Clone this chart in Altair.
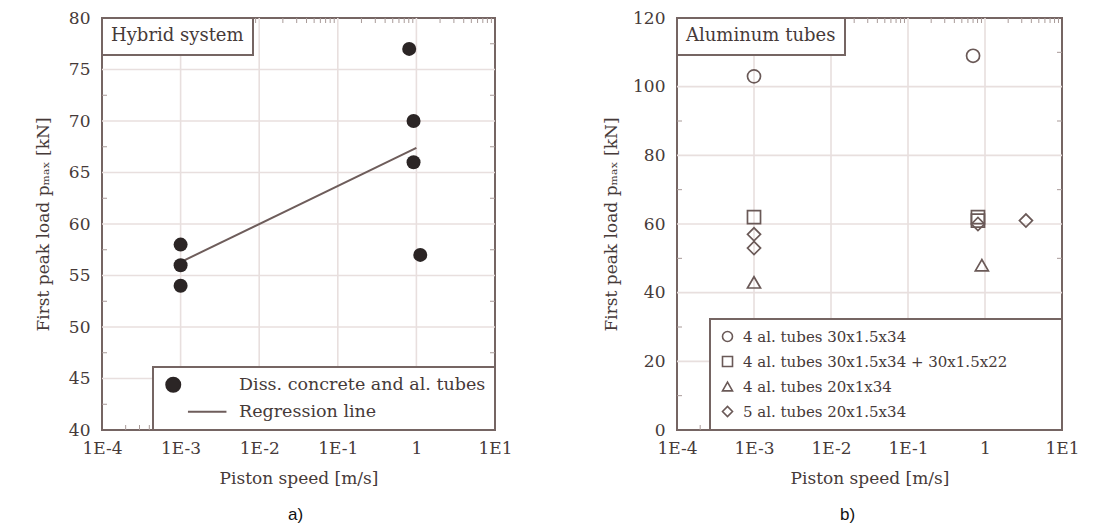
import altair as alt
import pandas as pd

# ---------------- data ----------------
# panel a) hybrid system
a_series_pts = "Diss. concrete and al. tubes"
a_series_reg = "Regression line"
a_speed = [1e-3, 1e-3, 1e-3, 0.81, 0.92, 0.92, 1.12]
a_load = [58, 56, 54, 77, 70, 66, 57]
reg_speed = [1e-3, 1.0]
reg_load = [56.3, 67.4]

# panel b) aluminum tubes
b_names = [
    "4 al. tubes 30x1.5x34",
    "4 al. tubes 30x1.5x34 + 30x1.5x22\u2800\u2800\u2800\u2800",
    "4 al. tubes 20x1x34",
    "5 al. tubes 20x1.5x34",
]
b_series = [0, 1, 3, 3, 2, 0, 1, 1, 3, 2, 3]
b_speed = [1e-3, 1e-3, 1e-3, 1e-3, 1e-3, 0.70, 0.81, 0.81, 0.81, 0.91, 3.4]
b_load = [103, 62, 57, 53, 43, 109, 62, 61, 60, 48, 61]

x_major = [1e-4, 1e-3, 1e-2, 1e-1, 1, 10]
x_grid = [1e-3, 1e-2, 1e-1, 1]
x_minor = [k * 10.0 ** e for e in range(-4, 1) for k in range(2, 10)]

a_y_major = [40, 45, 50, 55, 60, 65, 70, 75, 80]
a_y_grid = [45, 50, 55, 60, 65, 70, 75]
a_y_minor = [42.5, 47.5, 52.5, 57.5, 62.5, 67.5, 72.5, 77.5]

b_y_major = [0, 20, 40, 60, 80, 100, 120]
b_y_grid = [20, 40, 60, 80, 100]
b_y_minor = [10, 30, 50, 70, 90, 110]

# ---------------- style ----------------
FONT = "DejaVu Serif"
TEXT = "#463a39"
FRAME = "#756563"
GRID = "#e8dfde"
MINOR = "#a99b99"
DOT = "#2b2525"
LINEC = "#6e5d5b"
MARK = "#6a5957"

WA, WB, H = 393, 385, 412

xs = alt.Scale(type="log", domain=[1e-4, 10], nice=False)
LABEL_EXPR = ("datum.value == 1 ? '1' : (datum.value == 10 ? '1E1' : "
              "'1E' + round(log(datum.value) / LN10))")


def x_axis():
    return alt.Axis(values=x_major, labelExpr=LABEL_EXPR, title="Piston speed [m/s]",
                    grid=False, ticks=False, tickSize=0, domain=False,
                    labelPadding=10, titlePadding=14, labelFlush=False,
                    labelOverlap=False)


def y_axis(vals, ext, tpad):
    return alt.Axis(values=vals, title="First peak load p\u2098\u2090\u2093 [kN]",
                    grid=False, ticks=False, tickSize=0, domain=False,
                    labelPadding=12, titlePadding=tpad, minExtent=ext,
                    maxExtent=ext, labelOverlap=False, labelFlush=False)


def label_legend(name):
    # the boxed panel label is drawn as the legend's title; its entry is hidden
    return alt.Legend(title=name, titleFont=FONT, titleFontSize=18, titleColor=TEXT,
                      titleFontWeight="normal", titlePadding=0, orient="top-left",
                      offset=0, strokeColor=FRAME, fillColor="white", padding=9,
                      symbolSize=0, symbolOpacity=0, symbolStrokeWidth=0,
                      labelOffset=0, labelFontSize=1, labelExpr="''")


def decorations(ys, yax, W, y_grid, y_minor, panel_name):
    xax = x_axis()
    gx = alt.Chart(pd.DataFrame({"v": x_grid, "panel": [panel_name] * len(x_grid)})
                   ).mark_rule(color=GRID, strokeWidth=1.6).encode(
        x=alt.X("v:Q", scale=xs, axis=xax),
        opacity=alt.Opacity("panel:N", scale=alt.Scale(domain=[panel_name], range=[1]),
                            legend=label_legend(panel_name)))
    gy = alt.Chart(pd.DataFrame({"v": y_grid})).mark_rule(
        color=GRID, strokeWidth=1.6).encode(y=alt.Y("v:Q", scale=ys, axis=yax))
    ymin = pd.DataFrame({"v": y_minor})
    myl = alt.Chart(ymin).mark_rule(color=MINOR, strokeWidth=1).encode(
        y=alt.Y("v:Q", scale=ys, axis=yax), x=alt.value(0), x2=alt.value(5))
    myr = alt.Chart(ymin).mark_rule(color=MINOR, strokeWidth=1).encode(
        y=alt.Y("v:Q", scale=ys, axis=yax), x=alt.value(W - 5), x2=alt.value(W))
    xmin = pd.DataFrame({"v": x_minor})
    mxb = alt.Chart(xmin).mark_rule(color=MINOR, strokeWidth=1).encode(
        x=alt.X("v:Q", scale=xs, axis=xax), y=alt.value(H - 5), y2=alt.value(H))
    mxt = alt.Chart(xmin).mark_rule(color=MINOR, strokeWidth=1).encode(
        x=alt.X("v:Q", scale=xs, axis=xax), y=alt.value(0), y2=alt.value(5))
    return [gx, gy, myl, myr, mxb, mxt]


# ---------------- panel a ----------------
ysA = alt.Scale(domain=[40, 80], nice=False, zero=False)
yaxA = y_axis(a_y_major, 40, 10)
A_DOMAIN = [a_series_pts, a_series_reg]

legA = alt.Legend(title=None, orient="bottom-right", offset=0, strokeColor=FRAME,
                  fillColor="white", padding=9, symbolOffset=2.5, symbolSize=196,
                  labelOffset=57, rowPadding=6, labelFontSize=17.5, labelFont=FONT,
                  labelColor=TEXT, labelLimit=500,
                  symbolStrokeColor="#4d3f3e", symbolStrokeWidth=2)

dfA = pd.DataFrame({"speed": a_speed, "load": a_load,
                    "series": [a_series_pts] * len(a_speed)})
dfR = pd.DataFrame({"speed": reg_speed, "load": reg_load,
                    "series": [a_series_reg] * len(reg_speed)})

colA = alt.Scale(domain=A_DOMAIN, range=[DOT, LINEC])
shpA = alt.Scale(domain=A_DOMAIN, range=["circle", "M2.1,0H7.6"])

lineA = alt.Chart(dfR).mark_line(strokeWidth=2).encode(
    x=alt.X("speed:Q", scale=xs, axis=x_axis()),
    y=alt.Y("load:Q", scale=ysA, axis=yaxA),
    color=alt.Color("series:N", scale=colA, legend=legA),
)
ptsA = alt.Chart(dfA).mark_point(filled=True, size=196, opacity=1).encode(
    x=alt.X("speed:Q", scale=xs, axis=x_axis()),
    y=alt.Y("load:Q", scale=ysA, axis=yaxA),
    color=alt.Color("series:N", scale=colA, legend=legA),
    shape=alt.Shape("series:N", scale=shpA, legend=legA),
)

left = alt.layer(*decorations(ysA, yaxA, WA, a_y_grid, a_y_minor, "Hybrid system"),
                 lineA, ptsA).properties(
    width=WA, height=H,
    title=alt.TitleParams(text="a)", orient="bottom", anchor="middle",
                          font="Liberation Sans", fontSize=17, fontWeight="normal",
                          color="#111111", offset=21, dx=-3),
)

# ---------------- panel b ----------------
ysB = alt.Scale(domain=[0, 120], nice=False, zero=False)
yaxB = y_axis(b_y_major, 45, 12)
dfB = pd.DataFrame({"speed": b_speed, "load": b_load,
                    "series": [b_names[i] for i in b_series]})

legB = alt.Legend(title=None, orient="bottom-right", offset=0, strokeColor=FRAME,
                  fillColor="white", padding=10, symbolSize=100, labelOffset=8,
                  rowPadding=8, labelFontSize=15, labelFont=FONT, labelColor=TEXT,
                  labelLimit=700,
                  symbolStrokeColor=MARK, symbolFillColor="transparent",
                  symbolStrokeWidth=1.6)

ptsB = alt.Chart(dfB).mark_point(filled=False, size=170, strokeWidth=1.7,
                                  color=MARK, opacity=1).encode(
    x=alt.X("speed:Q", scale=xs, axis=x_axis()),
    y=alt.Y("load:Q", scale=ysB, axis=yaxB),
    shape=alt.Shape("series:N",
                    scale=alt.Scale(domain=b_names,
                                    range=["circle", "square", "triangle-up", "diamond"]),
                    legend=legB),
)

right = alt.layer(*decorations(ysB, yaxB, WB, b_y_grid, b_y_minor, "Aluminum tubes"),
                  ptsB).properties(
    width=WB, height=H,
    title=alt.TitleParams(text="b)", orient="bottom", anchor="middle",
                          font="Liberation Sans", fontSize=17, fontWeight="normal",
                          color="#111111", offset=21, dx=-22),
)

chart = (
    alt.hconcat(left, right, spacing=87)
    .resolve_scale(x="independent", y="independent", color="independent",
                   shape="independent", opacity="independent")
    .resolve_legend(color="independent", shape="independent", opacity="independent")
    .properties(padding={"left": 25, "top": 0, "right": 5, "bottom": 0})
    .configure_view(stroke=FRAME, strokeWidth=2)
    .configure_axis(labelFont=FONT, titleFont=FONT, labelColor=TEXT,
                    titleColor=TEXT, labelFontSize=17, titleFontSize=17,
                    titleFontWeight="normal")
    .configure_legend(labelFont=FONT, labelColor=TEXT, strokeWidth=2)
)

chart.save("out.html", embed_options={"renderer": "svg", "actions": False})
